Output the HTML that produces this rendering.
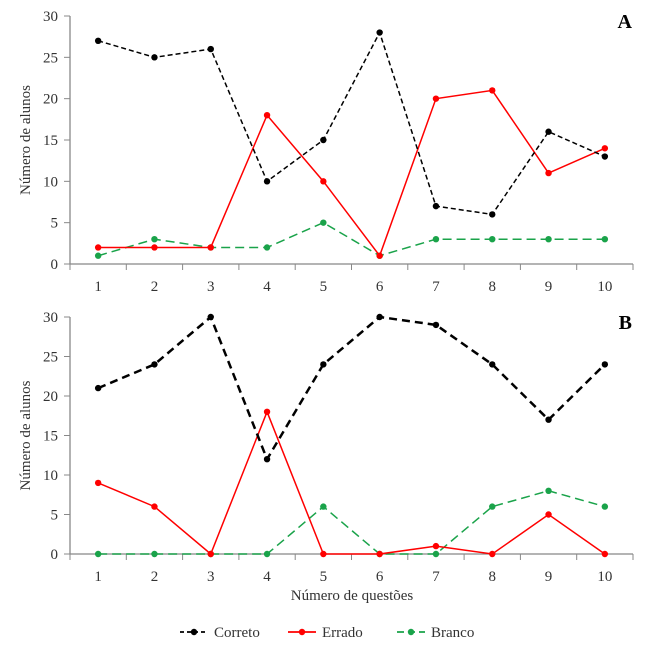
<!DOCTYPE html>
<html><head><meta charset="utf-8"><style>body{margin:0;background:#fff}svg{display:block;font-family:"Liberation Serif",serif}</style></head>
<body>
<svg id="c" width="647" height="650" xmlns="http://www.w3.org/2000/svg"></svg>
<script>
const categories=[1,2,3,4,5,6,7,8,9,10];
const yTicks=[0,5,10,15,20,25,30];
const aCorreto=[27,25,26,10,15,28,7,6,16,13];
const aErrado=[2,2,2,18,10,1,20,21,11,14];
const aBranco=[1,3,2,2,5,1,3,3,3,3];
const bCorreto=[21,24,30,12,24,30,29,24,17,24];
const bErrado=[9,6,0,18,0,0,1,0,5,0];
const bBranco=[0,0,0,0,6,0,0,6,8,6];
const svg=document.getElementById('c');const NS='http://www.w3.org/2000/svg';
function el(t,a,p){const e=document.createElementNS(NS,t);for(const k in a)e.setAttribute(k,a[k]);(p||svg).appendChild(e);return e;}
const x0=70,x1=633,step=(x1-x0)/categories.length;
function xs(i){return x0+step*(i+0.5);}
function panel(id,top,bottom,series,letter){
  const g=el('g',{});
  
  
  const ys=v=>bottom-(bottom-top)*v/30;
  const ax=el('path',{d:`M${x0},${top} V${bottom} H${x1}`,stroke:'#888',fill:'none','stroke-width':1.3},g);
  
  
  yTicks.forEach(t=>{el('line',{x1:x0-6,x2:x0,y1:ys(t),y2:ys(t),stroke:'#888'},g);
    const tx=el('text',{x:x0-12,y:ys(t)+5,'text-anchor':'end','font-size':15,fill:'#333'},g);tx.textContent=t;
    
    });
  for(let i=0;i<=categories.length;i++)el('line',{x1:x0+step*i,x2:x0+step*i,y1:bottom,y2:bottom+6,stroke:'#888'},g);
  categories.forEach((c,i)=>{const tx=el('text',{x:xs(i),y:bottom+27,'text-anchor':'middle','font-size':15,fill:'#333'},g);tx.textContent=c;
    
    });
  const yl=el('text',{x:0,y:0,transform:`translate(30,${(top+bottom)/2}) rotate(-90)`,'text-anchor':'middle','font-size':15,fill:'#333'},g);yl.textContent='Número de alunos';
  
  
  const lt=el('text',{x:632,y:top+12,'text-anchor':'end','font-size':20,'font-weight':'bold',fill:'#000'},g);lt.textContent=letter;
  
  
  series.forEach(s=>{
    const p=el('polyline',{points:s.d.map((v,i)=>xs(i)+','+ys(v)).join(' '),fill:'none',stroke:s.c,'stroke-width':s.w,'stroke-dasharray':s.dash},g);
    
    
    s.d.forEach((v,i)=>{const d=el('circle',{cx:xs(i),cy:ys(v),r:3.2,fill:s.c},g);
      
      });
  });
}
panel('a',16,264,[{d:aBranco,c:'#1aa34a',w:1.5,dash:'9,5',n:'branco'},{d:aErrado,c:'#ff0000',w:1.5,dash:'none',n:'errado'},{d:aCorreto,c:'#000',w:1.5,dash:'5,3',n:'correto'}],'A');
panel('b',317,554,[{d:bBranco,c:'#1aa34a',w:1.5,dash:'9,5',n:'branco'},{d:bErrado,c:'#ff0000',w:1.5,dash:'none',n:'errado'},{d:bCorreto,c:'#000',w:2.5,dash:'8,5',n:'correto'}],'B');
const xt=el('text',{x:352,y:600,'text-anchor':'middle','font-size':15,fill:'#333'});xt.textContent='Número de questões';


[['Correto','#000','4,3',180],['Errado','#ff0000','none',288],['Branco','#1aa34a','7,4',397]].forEach(l=>{
  const g=el('g',{});
  
  
  el('line',{x1:l[3],x2:l[3]+28,y1:632,y2:632,stroke:l[1],'stroke-width':1.8,'stroke-dasharray':l[2]},g);
  el('circle',{cx:l[3]+14,cy:632,r:3.2,fill:l[1]},g);
  const t=el('text',{x:l[3]+34,y:637,'font-size':15,fill:'#333'},g);t.textContent=l[0];
});
</script>
</body></html>
